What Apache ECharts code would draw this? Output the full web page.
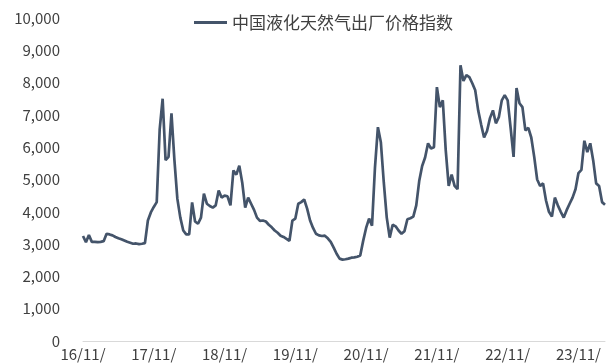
<!DOCTYPE html>
<html>
<head>
<meta charset="utf-8">
<script src="https://cdn.jsdelivr.net/npm/echarts@6/dist/echarts.min.js"></script>
<style>html,body{margin:0;padding:0;background:#fff}#c{width:606px;height:363px}</style>
</head>
<body>
<div id="c"></div>
<script>
// Semi-monthly observations from 2016-11-01 to 2024-03-16
var startYear = 2016, startMonth = 11;
var seriesName = '中国液化天然气出厂价格指数';
var tickLabels = ['16/11/', '17/11/', '18/11/', '19/11/', '20/11/', '21/11/', '22/11/', '23/11/'];
var yTicks = [0, 1000, 2000, 3000, 4000, 5000, 6000, 7000, 8000, 9000, 10000];
var lngPrice2016 = [3250, 3060, 3280, 3070];
var lngPrice2017 = [3070, 3060, 3070, 3090, 3320, 3300, 3270, 3220, 3180, 3150, 3110, 3070, 3040, 3010, 3020, 3000, 3010, 3030, 3730, 3980, 4150, 4300, 6550, 7500];
var lngPrice2018 = [5600, 5700, 7050, 5600, 4400, 3820, 3420, 3300, 3300, 4290, 3700, 3630, 3820, 4560, 4250, 4180, 4130, 4200, 4660, 4440, 4500, 4480, 4200, 5280];
var lngPrice2019 = [5150, 5430, 4900, 4130, 4440, 4250, 4060, 3820, 3720, 3730, 3700, 3600, 3520, 3420, 3350, 3260, 3220, 3160, 3100, 3730, 3790, 4250, 4300, 4380];
var lngPrice2020 = [4100, 3730, 3500, 3320, 3270, 3250, 3260, 3180, 3070, 2890, 2700, 2550, 2520, 2530, 2550, 2580, 2590, 2610, 2650, 3100, 3500, 3790, 3570, 5370];
var lngPrice2021 = [6620, 6150, 4900, 3820, 3200, 3600, 3550, 3420, 3320, 3400, 3770, 3800, 3850, 4200, 4950, 5420, 5680, 6120, 5960, 6000, 7860, 7240, 7450, 5900];
var lngPrice2022 = [4800, 5150, 4800, 4700, 8540, 8050, 8230, 8170, 7980, 7760, 7140, 6700, 6300, 6500, 6900, 7140, 6740, 6930, 7450, 7610, 7450, 6600, 5700, 7830];
var lngPrice2023 = [7360, 7240, 6520, 6600, 6300, 5700, 5000, 4800, 4880, 4350, 4000, 3850, 4440, 4200, 4000, 3820, 4050, 4250, 4440, 4700, 5200, 5300, 6200, 5850];
var lngPrice2024 = [6120, 5590, 4880, 4800, 4300, 4220];

var values = [].concat(lngPrice2016, lngPrice2017, lngPrice2018, lngPrice2019, lngPrice2020, lngPrice2021, lngPrice2022, lngPrice2023, lngPrice2024);
function pad(n){return (n<10?'0':'')+n;}
var categories = [];
for (var i = 0; i < values.length; i++) {
  var m = startMonth - 1 + Math.floor(i / 2);
  var y = startYear + Math.floor(m / 12);
  var mm = m % 12 + 1;
  var dd = (i % 2 === 0) ? 1 : 16;
  categories.push(pad(y % 100) + '/' + pad(mm) + '/' + pad(dd));
}
var font = '"Noto Sans CJK SC", "Noto Sans", sans-serif';
var chart = echarts.init(document.getElementById('c'), null, {renderer: 'canvas'});
chart.setOption({
  animation: false,
  backgroundColor: '#ffffff',
  grid: {left: 83, right: 1, top: 18, bottom: 22, containLabel: false},
  legend: {
    data: [{name: seriesName, icon: 'rect'}],
    left: 189, top: 9,
    itemWidth: 33, itemHeight: 3, itemGap: 4,
    textStyle: {fontFamily: font, fontSize: 17, color: '#404040'}
  },
  xAxis: {
    type: 'category',
    data: categories,
    boundaryGap: false,
    axisLine: {show: true, lineStyle: {color: '#d9d9d9', width: 1}},
    axisTick: {show: false},
    axisLabel: {
      interval: function (idx) { return idx % 24 === 0; },
      formatter: function (v, idx) { return tickLabels[Math.round(idx / 24)] || ''; },
      fontFamily: font, fontSize: 15, color: '#404040', margin: 6
    },
    splitLine: {show: false}
  },
  yAxis: {
    type: 'value',
    min: yTicks[0], max: yTicks[yTicks.length - 1], interval: 1000,
    axisLine: {show: false},
    axisTick: {show: false},
    splitLine: {show: false},
    axisLabel: {
      fontFamily: font, fontSize: 15, color: '#404040', margin: 23,
      formatter: function (v) { return v.toLocaleString('en-US'); }
    }
  },
  series: [{
    name: seriesName,
    type: 'line',
    data: values,
    symbol: 'none',
    lineStyle: {color: '#44546a', width: 2.7},
    itemStyle: {color: '#44546a'}
  }]
});
</script>
</body>
</html>
